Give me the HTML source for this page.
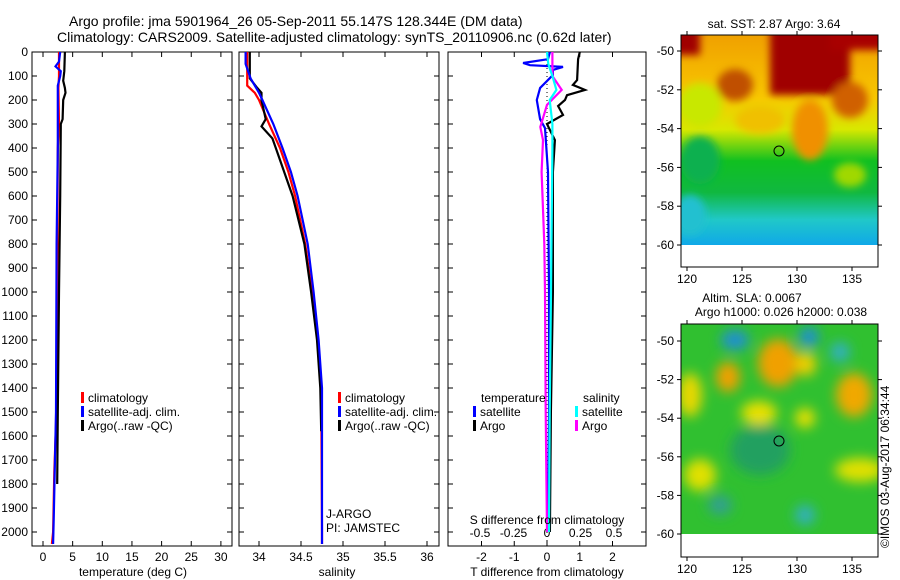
<!DOCTYPE html>
<html><head><meta charset="utf-8"><style>
body{margin:0;background:#fff;}
svg{display:block;font-family:"Liberation Sans",sans-serif;}
</style></head><body>
<svg id="c" width="900" height="580" viewBox="0 0 900 580">
<defs>
<filter id="bl" x="-20%" y="-20%" width="140%" height="140%"><feGaussianBlur stdDeviation="6"/></filter>
<filter id="bl2" x="-20%" y="-20%" width="140%" height="140%"><feGaussianBlur stdDeviation="4"/></filter>
<clipPath id="m1"><rect x="681" y="35" width="197" height="210"/></clipPath>
<clipPath id="m2"><rect x="681" y="324" width="197" height="210"/></clipPath>
<clipPath id="p1"><rect x="32" y="52" width="200" height="494"/></clipPath>
<clipPath id="p2"><rect x="239" y="52" width="200" height="494"/></clipPath>
<clipPath id="p3"><rect x="448" y="52" width="198" height="494"/></clipPath>
<linearGradient id="sstg" x1="0" y1="0" x2="0" y2="1">
<stop offset="0" stop-color="#f0a000"/><stop offset="0.3" stop-color="#f8c800"/><stop offset="0.45" stop-color="#d8e800"/><stop offset="0.6" stop-color="#10c020"/><stop offset="0.75" stop-color="#10b840"/><stop offset="0.88" stop-color="#20c8c8"/><stop offset="1" stop-color="#10a8e8"/>
</linearGradient>
</defs>
<g id="titles" font-size="14">
<text x="69" y="26">Argo profile: jma 5901964_26 05-Sep-2011 55.147S 128.344E (DM data)</text>
<text x="57" y="42">Climatology: CARS2009. Satellite-adjusted climatology: synTS_20110906.nc (0.62d later)</text>
</g>
<g id="plots"></g>

<g>
<g clip-path="url(#m1)">
<rect x="681" y="35" width="197" height="210" fill="url(#sstg)"/>
<g filter="url(#bl2)">
<rect x="770" y="25" width="80" height="70" fill="#a00000"/>
<rect x="670" y="25" width="30" height="30" fill="#a00000"/>
<rect x="830" y="25" width="60" height="25" fill="#a80000"/>
<ellipse cx="735" cy="85" rx="18" ry="16" fill="#c05000"/>
<ellipse cx="850" cy="100" rx="18" ry="18" fill="#d06000"/>
<ellipse cx="810" cy="130" rx="18" ry="30" fill="#f09000"/>
<ellipse cx="700" cy="105" rx="22" ry="22" fill="#c8e800"/>
<ellipse cx="760" cy="120" rx="25" ry="14" fill="#f0c000"/>
<ellipse cx="700" cy="160" rx="20" ry="24" fill="#10b050"/>
<ellipse cx="690" cy="215" rx="16" ry="20" fill="#20c0d0"/>
<ellipse cx="850" cy="175" rx="16" ry="12" fill="#a0d800"/>
</g>
</g>
<rect x="681" y="35" width="197" height="232" fill="none" stroke="#000"/>
<circle cx="779" cy="151" r="5" fill="none" stroke="#000"/>
<text x="774" y="28" font-size="12" text-anchor="middle">sat. SST: 2.87 Argo: 3.64</text>
</g>
<g>
<g clip-path="url(#m2)">
<rect x="681" y="324" width="197" height="210" fill="#30c030"/>
<g filter="url(#bl)">
<ellipse cx="735" cy="340" rx="14" ry="10" fill="#2090d0"/>
<ellipse cx="809" cy="337" rx="10" ry="10" fill="#2090d0"/>
<ellipse cx="840" cy="352" rx="10" ry="10" fill="#30b0c0"/>
<ellipse cx="778" cy="363" rx="20" ry="24" fill="#f0a000"/>
<ellipse cx="806" cy="364" rx="10" ry="12" fill="#f0d000"/>
<ellipse cx="728" cy="377" rx="12" ry="15" fill="#f0a000"/>
<ellipse cx="854" cy="395" rx="18" ry="22" fill="#f0a800"/>
<ellipse cx="690" cy="395" rx="12" ry="22" fill="#e8d800"/>
<ellipse cx="759" cy="413" rx="18" ry="12" fill="#e8e000"/>
<ellipse cx="805" cy="418" rx="10" ry="10" fill="#e8e000"/>
<ellipse cx="700" cy="475" rx="16" ry="16" fill="#e0e000"/>
<ellipse cx="860" cy="470" rx="25" ry="12" fill="#e0e000"/>
<ellipse cx="760" cy="450" rx="30" ry="25" fill="#20a060"/>
<ellipse cx="805" cy="515" rx="10" ry="10" fill="#30b0c0"/>
<ellipse cx="720" cy="505" rx="12" ry="10" fill="#30a090"/>
</g>
</g>
<rect x="681" y="324" width="197" height="233" fill="none" stroke="#000"/>
<circle cx="779" cy="441" r="5" fill="none" stroke="#000"/>
<text x="752" y="302" font-size="12" text-anchor="middle">Altim. SLA: 0.0067</text>
<text x="781" y="316" font-size="12" text-anchor="middle">Argo h1000: 0.026 h2000: 0.038</text>
<text transform="translate(889,548) rotate(-90)" font-size="12">©IMOS 03-Aug-2017 06:34:44</text>
</g>
<g id="maps-ax" font-size="12"></g>
</svg>
<script>
const depthTicks = [0,100,200,300,400,500,600,700,800,900,1000,1100,1200,1300,1400,1500,1600,1700,1800,1900,2000];
const tempTicks = [0,5,10,15,20,25,30];
const salTicks = [34,34.5,35,35.5,36];
const salTickLabels = ["34","34.5","35","35.5","36"];
const tdiffTicks = [-2,-1,0,1,2];
const sdiffTicks = [-0.5,-0.25,0,0.25,0.5];
const sdiffTickLabels = ["-0.5","-0.25","0","0.25","0.5"];
const tClimDepth = [0,100,150,300,400,1000,1550,1750,2000,2050];
const tClim = [2.7,2.7,2.6,2.7,2.5,2.4,2.2,1.9,1.7,1.5];
const tSatDepth = [0,40,60,80,100,140,400,800,1500,1950,2050];
const tSat = [2.9,2.7,2.1,3.0,2.9,2.5,2.5,2.3,2.2,1.8,1.7];
const tArgoDepth = [0,80,120,150,170,200,280,300,600,1000,1500,1800];
const tArgo = [3.7,3.6,3.4,3.7,3.8,3.4,3.3,3.0,2.9,2.7,2.5,2.4];
const sClimDepth = [0,60,140,170,200,300,400,500,600,800,1000,1200,1400,2000,2050];
const sClim = [33.86,33.86,33.86,33.95,34.0,34.12,34.25,34.35,34.43,34.55,34.63,34.7,34.74,34.75,34.75];
const sSatDepth = [0,50,110,170,200,300,400,500,600,800,1000,1200,1400,2000,2050];
const sSat = [33.84,33.84,33.9,34.0,34.04,34.17,34.28,34.38,34.46,34.58,34.65,34.71,34.75,34.75,34.75];
const sArgoDepth = [0,110,150,170,200,280,310,360,400,600,800,1000,1200,1400,1580];
const sArgo = [33.89,33.89,33.98,34.03,34.03,34.08,34.03,34.16,34.2,34.4,34.54,34.62,34.69,34.73,34.74];
const dTSatDepth = [0,30,46,55,62,75,96,150,200,280,317,500,1000,1500,2000];
const dTSat = [0.09,0.03,-0.73,-0.52,0.49,0.18,0.18,-0.21,-0.31,-0.21,-0.06,0.03,0.06,0.06,0.03];
const dTArgoDepth = [0,30,117,137,158,180,200,225,262,300,367,500,1000,1500,2000];
const dTArgo = [1.0,0.95,0.92,0.79,1.16,0.61,0.55,0.34,0.49,0,0.24,0.18,0.18,0.12,0.09];
const dSSatDepth = [0,50,100,158,200,300,400,1000,1500,2000];
const dSSat = [0,0.01,0.04,0.07,0.02,0.04,0.04,0.03,0.02,0.015];
const dSArgoDepth = [0,100,158,220,312,367,500,800,1000,1500,2000];
const dSArgo = [0.04,0.04,0.11,0,-0.05,-0.03,-0.04,-0.02,-0.015,-0.01,0];
const lonTicks = [120,125,130,135];
const latTicks = [-50,-52,-54,-56,-58,-60];

const NS='http://www.w3.org/2000/svg';
const g=document.getElementById('plots');
const gm=document.getElementById('maps-ax');
function mk(tag,at,parent){const e=document.createElementNS(NS,tag);for(const k in at)e.setAttribute(k,at[k]);(parent||g).appendChild(e);return e;}
const yD=d=>52+d*0.24;
const xT=v=>43+v*5.93;
const xS=v=>259+(v-34)*84;
const xDT=v=>547+v*32.75;
const xDS=v=>547+v*134;

function frame(x0,x1,name){
  const r=mk('rect',{x:x0,y:52,width:x1-x0,height:494,fill:'none',stroke:'#000'});
  
  
  depthTicks.forEach(d=>{mk('line',{x1:x0,x2:x0+5,y1:yD(d),y2:yD(d),stroke:'#000'});mk('line',{x1:x1-5,x2:x1,y1:yD(d),y2:yD(d),stroke:'#000'});});
}
function xticks(vals,labels,xf,ylab){
  vals.forEach((v,i)=>{const x=xf(v);mk('line',{x1:x,x2:x,y1:52,y2:57,stroke:'#000'});mk('line',{x1:x,x2:x,y1:541,y2:546,stroke:'#000'});
   const t=mk('text',{x:x,y:ylab,'font-size':12,'text-anchor':'middle'});t.textContent=labels[i];
   
   });
}
function line(depths,vals,xf,col,clip,name,w){
  const pts=depths.map((d,i)=>xf(vals[i]).toFixed(1)+','+yD(d).toFixed(1)).join(' ');
  const p=mk('polyline',{points:pts,fill:'none',stroke:col,'stroke-width':w||2.2,'clip-path':clip});
  
  
}
function label(x,y,txt,name,anchor,size){const t=mk('text',{x:x,y:y,'font-size':size||12,'text-anchor':anchor||'start'});t.textContent=txt;
  
  return t;}
function leg(x,y,col,txt,name){mk('rect',{x:x,y:y-10,width:3,height:11,fill:col});label(x+7,y,txt,name);}

frame(32,232,'temperature-panel');
depthTicks.forEach(d=>{label(28,yD(d)+4,String(d),'y-tick-label','end');});
xticks(tempTicks,tempTicks.map(String),xT,561);
line(tClimDepth,tClim,xT,'#f00','url(#p1)','temp-climatology-line');
line(tSatDepth,tSat,xT,'#00f','url(#p1)','temp-satellite-line');
line(tArgoDepth,tArgo,xT,'#000','url(#p1)','temp-argo-line');
label(133,576,'temperature (deg C)','x-axis-title-temperature','middle');
leg(81,402,'#f00','climatology','legend-climatology');
leg(81,416,'#00f','satellite-adj. clim.','legend-satellite');
leg(81,430,'#000','Argo(..raw -QC)','legend-argo');

frame(239,439,'salinity-panel');
xticks(salTicks,salTickLabels,xS,561);
line(sClimDepth,sClim,xS,'#f00','url(#p2)','sal-climatology-line');
line(sArgoDepth,sArgo,xS,'#000','url(#p2)','sal-argo-line');
line(sSatDepth,sSat,xS,'#00f','url(#p2)','sal-satellite-line');
label(337,576,'salinity','x-axis-title-salinity','middle');
leg(338,402,'#f00','climatology','legend2-climatology');
leg(338,416,'#00f','satellite-adj. clim.','legend2-satellite');
leg(338,430,'#000','Argo(..raw -QC)','legend2-argo');
label(326,518,'J-ARGO','data-centre-label');
label(326,532,'PI: JAMSTEC','pi-label');

frame(448,646,'difference-panel');
xticks(tdiffTicks,tdiffTicks.map(String),xDT,561);
sdiffTicks.forEach((v,i)=>{label(xDS(v),537,sdiffTickLabels[i],'s-diff-tick-label','middle');});
mk('line',{x1:xDT(0),x2:xDT(0),y1:52,y2:546,stroke:'#000','stroke-dasharray':'1,3'});
line(dTArgoDepth,dTArgo,xDT,'#000','url(#p3)','tdiff-argo-line');
line(dTSatDepth,dTSat,xDT,'#00f','url(#p3)','tdiff-satellite-line');
line(dSArgoDepth,dSArgo,xDS,'#f0f','url(#p3)','sdiff-argo-line');
line(dSSatDepth,dSSat,xDS,'#0ff','url(#p3)','sdiff-satellite-line');
label(547,576,'T difference from climatology','x-axis-title-tdiff','middle');
label(547,524,'S difference from climatology','x-axis-title-sdiff','middle');
label(481,402,'temperature','legend3-temperature-header');
label(583,402,'salinity','legend3-salinity-header');
leg(473,416,'#00f','satellite','legend3-t-satellite');
leg(473,430,'#000','Argo','legend3-t-argo');
leg(575,416,'#0ff','satellite','legend3-s-satellite');
leg(575,430,'#f0f','Argo','legend3-s-argo');

const xL=v=>687+(v-120)*11;
[[51,245,35,267],[341,534,324,557]].forEach((m,k)=>{
  const yLat=v=>m[0]+(-50-v)*(m[1]-m[0])/10;
  latTicks.forEach(v=>{const y=yLat(v);mk('line',{x1:681,x2:677,y1:y,y2:y,stroke:'#000'},gm);mk('line',{x1:878,x2:882,y1:y,y2:y,stroke:'#000'},gm);
    const t=mk('text',{x:674,y:y+4,'text-anchor':'end'},gm);t.textContent=String(v);
    
    });
  lonTicks.forEach(v=>{const x=xL(v);mk('line',{x1:x,x2:x,y1:m[2],y2:m[2]-4,stroke:'#000'},gm);mk('line',{x1:x,x2:x,y1:m[3],y2:m[3]+4,stroke:'#000'},gm);
    const t=mk('text',{x:x,y:m[3]+16,'text-anchor':'middle'},gm);t.textContent=String(v);
    
    });
});
</script>
</body></html>
